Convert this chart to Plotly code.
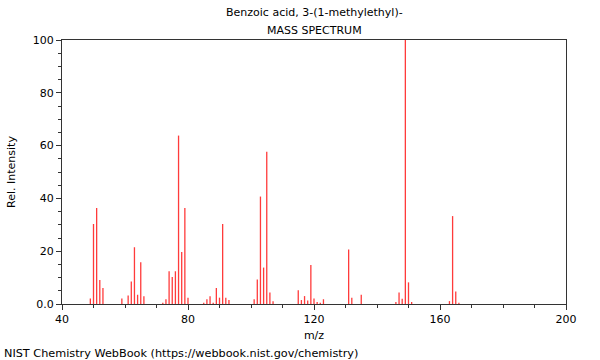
import plotly.graph_objects as go

# m/z values and relative intensities
mz = [49, 50, 51, 52, 53, 59, 61, 62, 63, 64, 65, 66,
      72, 73, 74, 75, 76, 77, 78, 79, 80,
      85, 86, 87, 88, 89, 90, 91, 92, 93,
      101, 102, 103, 104, 105, 106, 107,
      115, 116, 117, 118, 119, 120, 121, 122, 123,
      131, 132, 135, 146, 147, 148, 149, 150, 151,
      163, 164, 165, 166]
intensity = [2.1, 30.3, 36.4, 9.1, 6.1, 2.1, 3.2, 8.5, 21.5, 3.5, 15.8, 2.9,
             0.5, 1.8, 12.4, 10.2, 12.4, 63.8, 19.7, 36.4, 2.4,
             0.5, 1.8, 2.9, 0.5, 6.1, 2.4, 30.3, 2.4, 1.5,
             1.8, 9.3, 40.7, 13.8, 57.7, 4.4, 1.0,
             5.2, 1.5, 3.0, 1.3, 14.8, 2.1, 0.8, 0.5, 1.8,
             20.6, 2.4, 3.5, 0.8, 4.4, 2.0, 100.0, 8.2, 0.8,
             1.1, 33.3, 4.7, 0.5]

x_ticks = [40, 80, 120, 160, 200]
y_ticks = [0, 20, 40, 60, 80, 100]
y_tick_text = ["0.0", "20", "40", "60", "80", "100"]

title_line1 = "Benzoic acid, 3-(1-methylethyl)-"
title_line2 = "MASS SPECTRUM"
footer = "NIST Chemistry WebBook (https://webbook.nist.gov/chemistry)"

xs, ys = [], []
for m, v in zip(mz, intensity):
    xs += [m, m, None]
    ys += [0, v, None]

FONT = "DejaVu Sans"
AX = "#333333"

fig = go.Figure()
fig.add_trace(go.Scatter(x=xs, y=ys, mode="lines",
                         line=dict(color="#ff3b3b", width=1.3),
                         hoverinfo="skip", showlegend=False))

fig.update_layout(
    width=600, height=360,
    margin=dict(l=62, r=34, t=40, b=56),
    paper_bgcolor="white", plot_bgcolor="white",
    font=dict(family=FONT, size=11, color="black"),
    showlegend=False,
    xaxis=dict(range=[40, 200], tickvals=x_ticks, ticks="outside",
               ticklen=5, tickcolor=AX, showgrid=False, zeroline=False,
               showline=True, linecolor=AX, linewidth=1, mirror=True,
               tickfont=dict(size=11),
               minor=dict(dtick=10, ticks="outside", ticklen=3, tickcolor=AX),
               title=dict(text="m/z", font=dict(size=11), standoff=6)),
    yaxis=dict(range=[0, 100], tickvals=y_ticks, ticktext=y_tick_text,
               ticks="outside", ticklen=5, tickcolor=AX, showgrid=False,
               zeroline=False, showline=True, linecolor=AX, linewidth=1,
               mirror=True, tickfont=dict(size=11),
               minor=dict(dtick=5, ticks="outside", ticklen=3, tickcolor=AX),
               title=dict(text="Rel. Intensity", font=dict(size=11), standoff=14)),
)

fig.add_annotation(text=title_line1, xref="paper", yref="paper", x=0.5, y=1,
                   yshift=28, showarrow=False, xanchor="center", yanchor="middle",
                   font=dict(size=11))
fig.add_annotation(text=title_line2, xref="paper", yref="paper", x=0.5, y=1,
                   yshift=10, showarrow=False, xanchor="center", yanchor="middle",
                   font=dict(size=11))
fig.add_annotation(text=footer, xref="paper", yref="paper", x=0, y=0,
                   xshift=-60, yshift=-49, showarrow=False, xanchor="left",
                   yanchor="middle", font=dict(size=11.25))

fig.write_html("out.html")
